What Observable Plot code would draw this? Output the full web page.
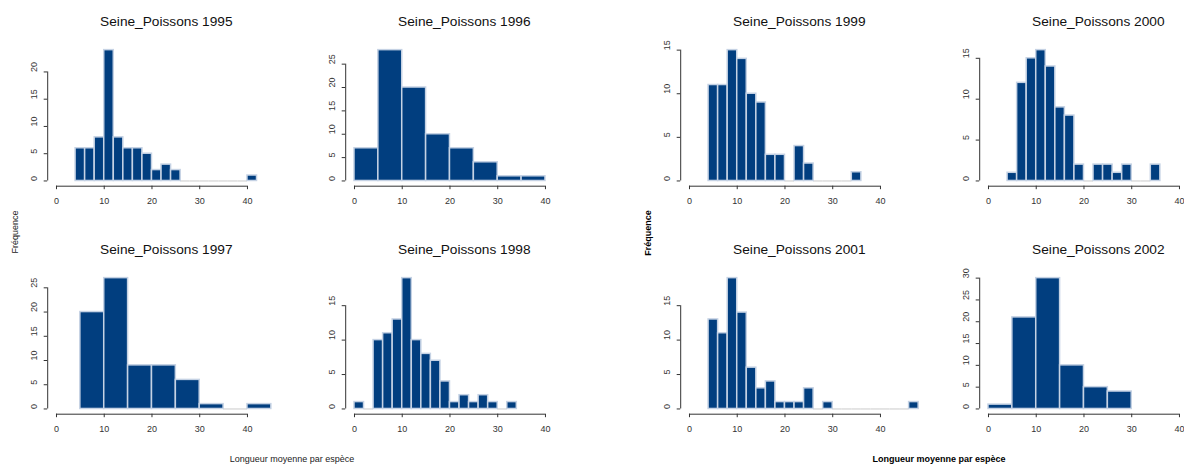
<!DOCTYPE html>
<html><head><meta charset="utf-8">
<script src="https://cdn.jsdelivr.net/npm/d3@7"></script>
<script src="https://cdn.jsdelivr.net/npm/@observablehq/plot@0.6"></script>
<style>
body{margin:0;background:#fff;font-family:"Liberation Sans",Arial,sans-serif;}
#fig{position:relative;width:1184px;height:464px;overflow:hidden;background:#fff}
.panel{position:absolute;width:300px;height:228px}
.panel svg{max-width:none !important}
.lab{position:absolute;font-size:9px;color:#222;white-space:nowrap;transform:translate(-50%,-50%)}
.rot{transform:translate(-50%,-50%) rotate(-90deg)}
.bold{font-weight:bold;color:#000}
</style></head><body><div id="fig"></div>
<script>
// ---- data ----
const titles = ["Seine_Poissons 1995","Seine_Poissons 1996","Seine_Poissons 1997","Seine_Poissons 1998",
                "Seine_Poissons 1999","Seine_Poissons 2000","Seine_Poissons 2001","Seine_Poissons 2002"];
const breaks1995 = [4,6,8,10,12,14,16,18,20,22,24,26,28,30,32,34,36,38,40,42];
const counts1995 = [6,6,8,24,8,6,6,5,2,3,2,0,0,0,0,0,0,0,1];
const breaks1996 = [0,5,10,15,20,25,30,35,40];
const counts1996 = [7,28,20,10,7,4,1,1];
const breaks1997 = [5,10,15,20,25,30,35,40,45];
const counts1997 = [20,27,9,9,6,1,0,1];
const breaks1998 = [0,2,4,6,8,10,12,14,16,18,20,22,24,26,28,30,32,34];
const counts1998 = [1,0,10,11,13,19,10,8,7,4,1,2,1,2,1,0,1];
const breaks1999 = [4,6,8,10,12,14,16,18,20,22,24,26,28,30,32,34,36];
const counts1999 = [11,11,15,14,10,9,3,3,0,4,2,0,0,0,0,1];
const breaks2000 = [4,6,8,10,12,14,16,18,20,22,24,26,28,30,32,34,36];
const counts2000 = [1,12,15,16,14,9,8,2,0,2,2,1,2,0,0,2];
const breaks2001 = [4,6,8,10,12,14,16,18,20,22,24,26,28,30,32,34,36,38,40,42,44,46,48];
const counts2001 = [13,11,19,14,6,3,4,1,1,1,3,0,1,0,0,0,0,0,0,0,0,1];
const breaks2002 = [0,5,10,15,20,25,30];
const counts2002 = [1,21,30,10,5,4];
const yTicks1995 = [0,5,10,15,20];
const yTicks1996 = [0,5,10,15,20,25];
const yTicks1997 = [0,5,10,15,20,25];
const yTicks1998 = [0,5,10,15];
const yTicks1999 = [0,5,10,15];
const yTicks2000 = [0,5,10,15];
const yTicks2001 = [0,5,10,15];
const yTicks2002 = [0,5,10,15,20,25,30];
const xTicks = [0,10,20,30,40];
const yLabel = "Fréquence";
const xLabel = "Longueur moyenne par espèce";

// ---- layout ----
const FILL = "#013E7F", LIGHT = "#C5D2E4", AXIS = "#333";
const colLeft = [0, 298, 633, 932];
const rowTop = [0, 228];
const panels = [
  {title:titles[0], breaks:breaks1995, counts:counts1995, yTicks:yTicks1995, c:0, r:0},
  {title:titles[1], breaks:breaks1996, counts:counts1996, yTicks:yTicks1996, c:1, r:0},
  {title:titles[2], breaks:breaks1997, counts:counts1997, yTicks:yTicks1997, c:0, r:1},
  {title:titles[3], breaks:breaks1998, counts:counts1998, yTicks:yTicks1998, c:1, r:1},
  {title:titles[4], breaks:breaks1999, counts:counts1999, yTicks:yTicks1999, c:2, r:0},
  {title:titles[5], breaks:breaks2000, counts:counts2000, yTicks:yTicks2000, c:3, r:0},
  {title:titles[6], breaks:breaks2001, counts:counts2001, yTicks:yTicks2001, c:2, r:1},
  {title:titles[7], breaks:breaks2002, counts:counts2002, yTicks:yTicks2002, c:3, r:1},
];
const fig = document.getElementById("fig");
const xDom = [-1.84, 47.84];

for (const p of panels) {
  const M = d3.max(p.counts);
  const yDom = [-0.04*M, 1.04*M];
  const bins = p.counts.map((c,i)=>({x1:p.breaks[i], x2:p.breaks[i+1], c}));
  const pos = bins.filter(d=>d.c>0), zero = bins.filter(d=>d.c===0);
  const svg = Plot.plot({
    width:300, height:228, marginTop:44.4, marginBottom:42.3, marginLeft:47.2, marginRight:15.6,
    style:{background:"transparent", overflow:"visible", maxWidth:"none", fontFamily:"'Liberation Sans', Arial, sans-serif"},
    x:{domain:xDom, label:null}, y:{domain:yDom, label:null},
    marks:[
      Plot.ruleY(zero,{x1:"x1",x2:"x2",y:0,stroke:"#dcdcdc",strokeWidth:1.5}),
      Plot.rect(pos,{x1:"x1",x2:"x2",y1:0,y2:"c",fill:FILL,stroke:LIGHT,strokeWidth:1.5}),
      Plot.ruleY([yDom[0]],{x1:xTicks[0],x2:xTicks[xTicks.length-1],stroke:AXIS,strokeWidth:1}),
      Plot.ruleX([xDom[0]],{y1:0,y2:d3.max(p.yTicks),stroke:AXIS,strokeWidth:1}),
      Plot.axisX({ticks:xTicks, tickSize:3.5, tickPadding:8, fontSize:9, color:AXIS, label:null}),
      Plot.axisY({ticks:p.yTicks, tickSize:3.5, tickFormat:()=>"", color:AXIS, label:null}),
      Plot.text(p.yTicks,{y:d=>d, text:d=>String(d), frameAnchor:"left", dx:-14, rotate:-90, fontSize:9, fill:AXIS, lineAnchor:"middle"}),
      Plot.text([p.title],{frameAnchor:"top", dy:-23.7, fontSize:13.7, fill:"#111", lineAnchor:"middle"})
    ]
  });
  const d = document.createElement("div");
  d.className = "panel";
  d.style.left = colLeft[p.c] + "px";
  d.style.top = rowTop[p.r] + "px";
  d.appendChild(svg);
  fig.appendChild(d);
}

function addLabel(text, x, y, cls){
  const e = document.createElement("div");
  e.className = "lab " + cls;
  e.style.left = x + "px"; e.style.top = y + "px";
  e.textContent = text;
  fig.appendChild(e);
}
addLabel(yLabel, 15, 232, "rot");
addLabel(yLabel, 648, 233, "rot bold");
addLabel(xLabel, 292, 459, "");
addLabel(xLabel, 939, 459, "bold");
</script></body></html>
